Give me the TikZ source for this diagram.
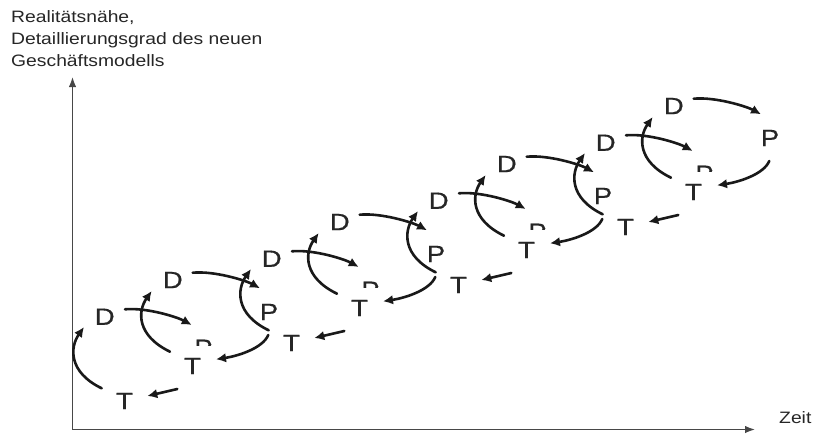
\documentclass[tikz,border=0pt]{standalone}
\usepackage{fontspec}
\setmainfont{Liberation Sans}
\newfontfamily\widesans[FakeStretch=1.17]{Liberation Sans}
\newfontfamily\widesansheavy[FakeStretch=1.17,FakeBold=0.6]{Liberation Sans}
\usetikzlibrary{arrows.meta,calc}

\begin{document}
\begin{tikzpicture}[x=1pt,y=-1pt,
  letter/.style={inner sep=0pt, text=black!85,
    font=\widesansheavy\fontsize{23.5}{28}\selectfont},
  flow/.style={line width=2.6pt, draw=black!90, line cap=round,
    -{Latex[length=10pt,width=9.5pt]}},
  axis/.style={line width=1.5pt, draw=black!72,
    {Latex[length=10pt,width=7.5pt]}-{Latex[length=10pt,width=7.5pt]}},
  caption/.style={inner sep=0pt, text=black!85,
    font=\widesans\fontsize{16.5}{21.7}\selectfont}]

\useasboundingbox (0,0) rectangle (813,434);

% axes
\coordinate (ytip) at (72.5,77);
\coordinate (xtip) at (755,429.5);
\draw[axis] (ytip) |- (xtip);

\node[caption, anchor=north west, align=left] (ylabel) at (11,10.7)
  {Realitätsnähe,\\Detaillierungsgrad des neuen\\Geschäftsmodells};
\node[caption, anchor=base west] (xlabel) at (779,423.5) {Zeit};

% four rising D-P-T cycles
\foreach \i in {0,...,3} {
  \pgfmathsetmacro\ox{167*\i}
  \pgfmathsetmacro\oy{-58*\i}
  \node[letter] (Da\i) at (\ox+104.7,\oy+316.7) {D};
  \node[letter] (Db\i) at (\ox+172.8,\oy+280) {D};
  \node[letter] (Ta\i) at (\ox+124.5,\oy+401) {T};
  \node[letter] (Tb\i) at (\ox+192.5,\oy+366) {T};
  \node[letter] (P\i)  at (\ox+269,\oy+312) {P};
  % half-hidden P above the second T
  \begin{scope}
    \clip (\ox+190,\oy+330) rectangle (\ox+222,\oy+345.5);
    \node[letter] (Pf\i) at (\ox+203.5,\oy+347.8) {P};
  \end{scope}
  % T -> D
  \draw[flow] ($(Ta\i)+(-22.8,-12.7)$) .. controls +(-33.7,-16.3) and +(-14,20) .. ($(Da\i)+(-20.7,10.3)$);
  % D -> P
  \draw[flow] ($(Da\i)+(20.3,-7.4)$) .. controls +(22,-2) and +(-14,-7.7) .. ($(Pf\i)+(-11.8,-22.8)$);
  % back to the first T
  \draw[flow] ($(Tb\i)+(-15.2,23)$) -- ($(Ta\i)+(22.8,-5)$);
  % T -> D
  \draw[flow] ($(Tb\i)+(-22.5,-14.3)$) .. controls +(-33.7,-16.3) and +(-14,20) .. ($(Db\i)+(-21.1,11)$);
  % D -> P
  \draw[flow] ($(Db\i)+(19.9,-7.3)$) .. controls +(22,-2) and +(-14,-7.7) .. ($(P\i)+(-9,-23.7)$);
  % P -> T
  \draw[flow] ($(P\i)+(-0.7,23)$) .. controls +(-6,14) and +(20,-3) .. ($(Tb\i)+(23.5,-6.7)$);
}
\end{tikzpicture}
\end{document}
